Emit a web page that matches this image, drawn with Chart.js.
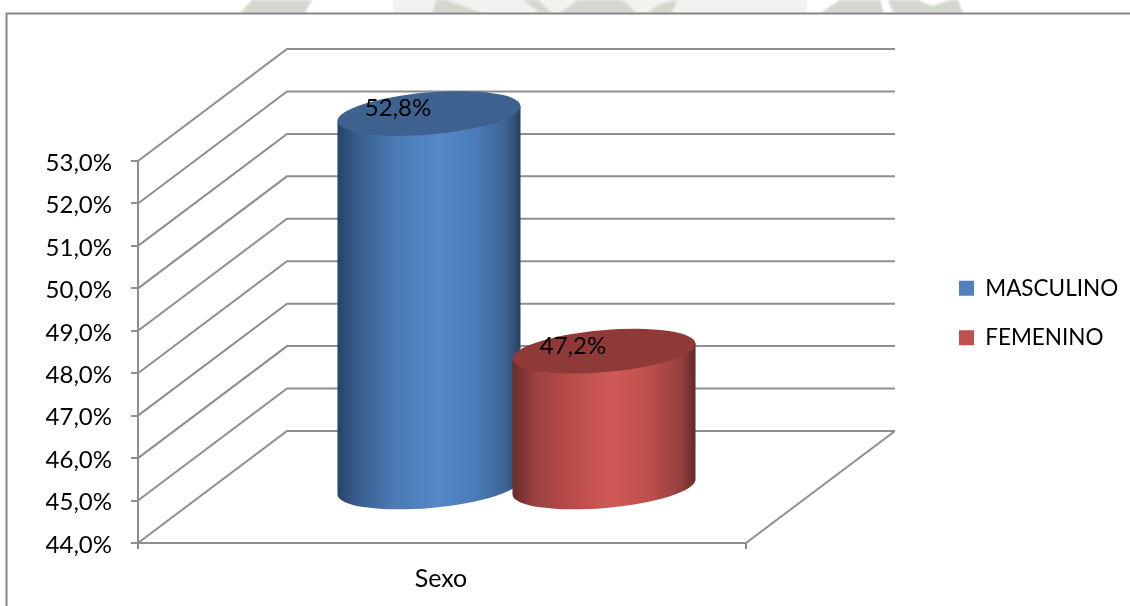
<!DOCTYPE html>
<html>
<head>
<meta charset="utf-8">
<style>
  html, body { margin: 0; padding: 0; background: #fff; }
  #wrap { width: 1130px; height: 606px; }
</style>
<script src="https://cdn.jsdelivr.net/npm/chart.js@4"></script>
</head>
<body>
<div id="wrap"><canvas id="sexoChart" width="1130" height="606"></canvas></div>
<script>
const categories = ["Sexo"];
const seriesNames = ["MASCULINO", "FEMENINO"];
const masculino = [52.8];
const femenino = [47.2];
const yTicks = [44, 45, 46, 47, 48, 49, 50, 51, 52, 53];

const GRID = "#8e8e8e";
const FONT = "Lato";
const DEPTH_X = 149, DEPTH_Y = -112;   // wall offset of the fake 3D box

const percent = v => v.toFixed(1).replace(".", ",") + "%";

// horizontal shading of the cylinders
const bodyStops = [
  [["0", "#27446b"], ["0.12", "#38608f"], ["0.3", "#4a79b3"], ["0.55", "#5587ca"], ["0.75", "#4b7cb9"], ["0.92", "#3d6594"], ["1", "#263f61"]],
  [["0", "#682c2b"], ["0.12", "#984140"], ["0.3", "#b74b49"], ["0.55", "#cf5a57"], ["0.75", "#bc4f4c"], ["0.92", "#94403e"], ["1", "#652928"]]
];
const topColors = ["#3e628f", "#8f3a38"];

// bits of the page watermark showing above the chart frame
const watermark = [
  [[240, 13], [252, 0], [312, 0], [305, 13]],
  [[433, 13], [436, 0], [446, 0], [482, 13]],
  [[523, 0], [538, 0], [552, 13], [540, 13]],
  [[560, 13], [578, 0], [622, 0], [637, 13]],
  [[647, 13], [660, 4], [677, 0], [672, 13]],
  [[820, 13], [840, 0], [880, 0], [884, 13]],
  [[893, 13], [888, 0], [918, 0], [932, 6], [950, 0], [958, 0], [963, 13]]
];

const box3d = {
  id: "box3d",
  afterLayout(chart) {
    // legend sits in the right margin, away from the plot
    const lg = chart.legend;
    lg.left = 932; lg.right = lg.left + lg.width;
    lg.top = 250; lg.bottom = lg.top + lg.height;
  },
  beforeDraw(chart) {
    const c = chart.ctx;
    c.save();
    c.fillStyle = "#f1f3ef";
    c.fillRect(393, 0, 414, 13);
    c.fillStyle = "#d3d8cf";
    c.filter = "blur(1px)";
    watermark.forEach(shape => {
      c.beginPath();
      shape.forEach((pt, i) => i ? c.lineTo(pt[0], pt[1]) : c.moveTo(pt[0], pt[1]));
      c.closePath();
      c.fill();
    });
    c.filter = "none";
    c.fillStyle = "#fff";
    c.fillRect(7, 14, 1123, 592);
    c.strokeStyle = "#868686";
    c.lineWidth = 2;
    c.beginPath();
    c.moveTo(6.5, 606);
    c.lineTo(6.5, 13.5);
    c.lineTo(1130, 13.5);
    c.stroke();
    c.restore();
  },
  beforeDatasetsDraw(chart) {
    const c = chart.ctx, x = chart.scales.x, y = chart.scales.y;
    const l = x.left, r = x.right;
    c.save();
    c.strokeStyle = GRID;
    c.lineWidth = 2;
    yTicks.forEach(v => {
      const py = y.getPixelForValue(v);
      c.beginPath();
      c.moveTo(l, py);
      c.lineTo(l + DEPTH_X, py + DEPTH_Y);
      c.lineTo(r + DEPTH_X, py + DEPTH_Y);
      c.stroke();
    });
    const by = y.getPixelForValue(yTicks[0]);
    c.beginPath();
    c.moveTo(r, by);
    c.lineTo(r + DEPTH_X, by + DEPTH_Y);
    c.stroke();

    // cylinders, blue first so the red one overlaps it
    chart.data.datasets.forEach((ds, i) => {
      const el = chart.getDatasetMeta(i).data[0];
      const p = el.getProps(["x", "y", "base", "width"], true);
      const cx = p.x + DEPTH_X / 2;
      const topY = p.y + DEPTH_Y / 2;
      const botY = p.base + DEPTH_Y / 2 + 1;
      const rx = p.width / 2 + 0.3, ry = 21, rot = -0.0857, lean = 7.5;
      const left = cx - p.width / 2, right = cx + p.width / 2;

      const g = c.createLinearGradient(left, 0, right, 0);
      bodyStops[i].forEach(s => g.addColorStop(+s[0], s[1]));
      c.fillStyle = g;
      c.beginPath();
      c.moveTo(left, topY + lean);
      c.lineTo(left, botY + lean);
      c.ellipse(cx, botY, rx, ry, rot, Math.PI, 0, true);
      c.lineTo(right, topY - lean);
      c.closePath();
      c.fill();

      c.fillStyle = topColors[i];
      c.beginPath();
      c.ellipse(cx, topY, rx, ry, rot, 0, Math.PI * 2);
      c.fill();

      c.fillStyle = "#000";
      c.font = "24px " + FONT;
      c.textAlign = "center";
      c.textBaseline = "middle";
      c.fillText(percent(ds.data[0]), cx - 31, topY - 5);
    });
    c.restore();
    return false;   // cylinders replace the flat bars
  }
};

new Chart(document.getElementById("sexoChart"), {
  type: "bar",
  data: {
    labels: categories,
    datasets: [
      { label: seriesNames[0], data: masculino, base: 44, backgroundColor: "#4f81bd", borderWidth: 0 },
      { label: seriesNames[1], data: femenino, base: 44, backgroundColor: "#c0504d", borderWidth: 0 }
    ]
  },
  options: {
    responsive: false,
    animation: false,
    devicePixelRatio: 1,
    categoryPercentage: 0.5757,
    barPercentage: 1.046,
    layout: { padding: { top: 161, right: 384, left: 0, bottom: 0 } },
    plugins: {
      tooltip: { enabled: false },
      legend: {
        position: "chartArea",
        align: "start",
        labels: { boxWidth: 15, boxHeight: 15, padding: 27, color: "#000", font: { family: FONT, size: 22.5 } }
      }
    },
    scales: {
      x: {
        afterFit(s) { s.height = 63; },
        grid: { offset: true, drawOnChartArea: false, tickLength: 6, color: GRID, lineWidth: 2 },
        border: { color: GRID, width: 2 },
        ticks: { color: "#000", padding: 15, labelOffset: -1, font: { family: FONT, size: 25 } }
      },
      y: {
        min: 44,
        max: 53,
        afterFit(s) { s.width = 138; },
        afterBuildTicks(s) { s.ticks = yTicks.map(v => ({ value: v })); },
        grid: { drawOnChartArea: false, tickLength: 7, color: GRID, lineWidth: 2 },
        border: { color: GRID, width: 2 },
        ticks: { color: "#000", padding: 19, labelOffset: 2, callback: v => percent(v), font: { family: FONT, size: 24 } }
      }
    }
  },
  plugins: [box3d]
});
</script>
</body>
</html>
